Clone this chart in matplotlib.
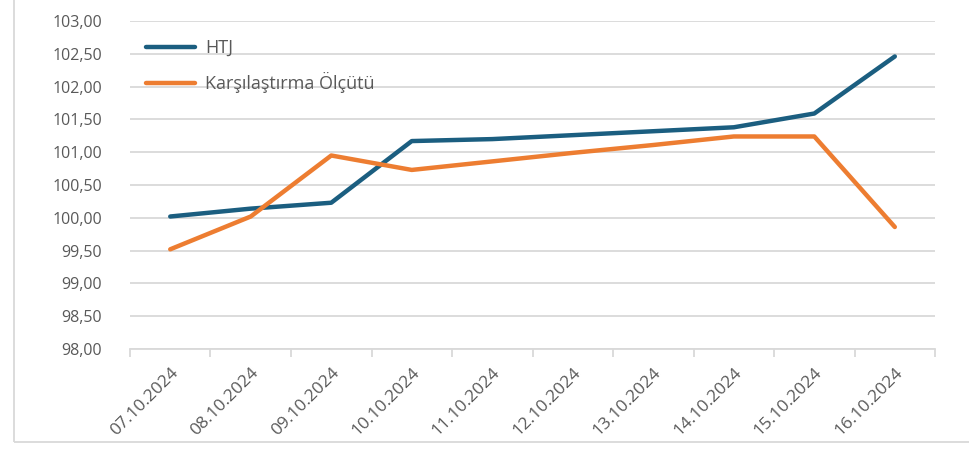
import numpy as np
import matplotlib.pyplot as plt
from matplotlib.ticker import FuncFormatter, FixedLocator
from matplotlib.patches import Rectangle

plt.rcParams['font.family'] = ['Open Sans', 'DejaVu Sans']

dates = ['07.10.2024', '08.10.2024', '09.10.2024', '10.10.2024', '11.10.2024',
         '12.10.2024', '13.10.2024', '14.10.2024', '15.10.2024', '16.10.2024']
htj = [100.02, 100.14, 100.23, 101.17, 101.20, 101.26, 101.32, 101.38, 101.59, 102.46]
benchmark = [99.52, 100.02, 100.95, 100.73, 100.86, 100.99, 101.11, 101.24, 101.24, 99.86]

grey = '#595959'
grid = '#D9D9D9'

fig = plt.figure(figsize=(9.7, 4.5), dpi=100)
ax = fig.add_axes([0.134, 0.2244, 0.830, 0.7289])

x = np.arange(len(dates))
ax.plot(x, htj, color='#1B5E80', lw=3.2, solid_capstyle='round', solid_joinstyle='round', label='HTJ')
ax.plot(x, benchmark, color='#ED7D31', lw=3.2, solid_capstyle='round', solid_joinstyle='round',
        label='Karşılaştırma Ölçütü')

ax.set_xlim(-0.5, len(dates) - 0.5)
ax.set_ylim(98, 103)
ax.set_yticks(np.arange(98, 103.01, 0.5))
ax.yaxis.set_major_formatter(FuncFormatter(lambda v, p: f'{v:.2f}'.replace('.', ',')))
ax.grid(axis='y', color=grid, lw=1.3)
ax.set_axisbelow(True)

ax.set_xticks(x)
ax.set_xticklabels(dates, rotation=45, ha='right', va='top', rotation_mode='anchor')
ax.xaxis.set_minor_locator(FixedLocator(np.arange(-0.5, len(dates), 1.0)))
ax.tick_params(axis='x', which='major', length=0, pad=11, labelsize=12.5, labelcolor=grey)
ax.tick_params(axis='x', which='minor', length=6, color=grid, width=1.3)
ax.tick_params(axis='y', length=0, pad=20, labelsize=11.5, labelcolor=grey)

for s in ['top', 'right', 'left']:
    ax.spines[s].set_visible(False)
ax.spines['bottom'].set_color(grid)
ax.spines['bottom'].set_linewidth(1.3)

leg = ax.legend(loc='upper left', bbox_to_anchor=(0.0, 0.995), frameon=False, fontsize=13,
                handlelength=2.7, labelspacing=0.85, handletextpad=0.55)
for t in leg.get_texts():
    t.set_color(grey)

fig.patches.append(Rectangle((14 / 970, 8 / 450), 1.2, 1.2, transform=fig.transFigure,
                             fill=False, edgecolor=grid, lw=1.3))

fig.savefig('out.png', dpi=100)
